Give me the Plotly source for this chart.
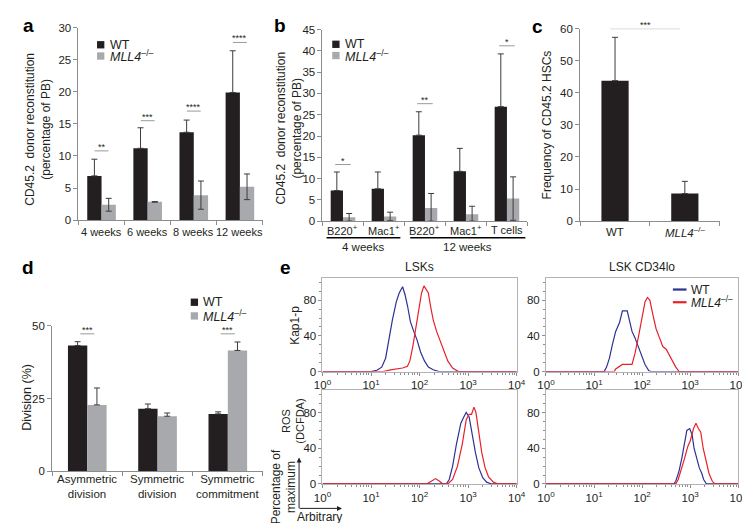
import plotly.graph_objects as go

W, H = 750, 523
FONT = "Liberation Sans, Arial, sans-serif"
INK = "#231f20"
AX = "#8c8c8c"
FRAME = "#b3b3b3"
WT_COLOR = "#231f20"
KO_COLOR = "#a7a9ac"
ERR = "#3c3c3c"
BLUE = "#2e3192"
RED = "#e8202a"
KO_LABEL = "<i>MLL4</i><sup>–/–</sup>"
SERIES = ["WT", KO_LABEL]

# ---------------- Panel a ----------------
a_cats = ["4 weeks", "6 weeks", "8 weeks", "12 weeks"]
a_wt = [6.9, 11.2, 13.7, 19.9]
a_wt_err = [2.6, 3.2, 1.9, 6.5]
a_ko = [2.4, 2.85, 3.9, 5.2]
a_ko_err = [1.0, 0.05, 2.2, 2.0]
a_sig = ["**", "***", "****", "****"]
a_sig_y = [10.8, 15.5, 17.0, 27.7]
a_yticks = [0, 5, 10, 15, 20, 25, 30]

# ---------------- Panel b ----------------
b_cats = ["B220<sup>+</sup>", "Mac1<sup>+</sup>", "B220<sup>+</sup>", "Mac1<sup>+</sup>", "T cells"]
b_wt = [7.2, 7.6, 20.2, 11.7, 26.9]
b_wt_err = [4.35, 3.95, 5.5, 5.4, 12.4]
b_ko = [0.9, 1.1, 3.1, 1.6, 5.3]
b_ko_err = [0.9, 1.0, 3.4, 1.9, 5.1]
b_sig = ["*", "", "**", "", "*"]
b_sig_y = [13.3, None, 27.6, None, 41.2]
b_groups = ["4 weeks", "12 weeks"]
b_group_start = [-0.4, 1.64]
b_group_end = [1.4, 4.45]
b_yticks = [0, 5, 10, 15, 20, 25, 30, 35, 40, 45]

# ---------------- Panel c ----------------
c_cats = ["WT", KO_LABEL]
c_vals = [43.8, 8.6]
c_err = [13.5, 3.8]
c_sig = "***"
c_sig_y = 60
c_yticks = [0, 10, 20, 30, 40, 50, 60]

# ---------------- Panel d ----------------
d_cats = ["Asymmetric<br>division", "Symmetric<br>division", "Symmetric<br>commitment"]
d_wt = [43.2, 21.5, 19.7]
d_wt_err = [1.3, 1.6, 0.7]
d_ko = [22.8, 18.9, 41.5]
d_ko_err = [5.8, 1.1, 2.9]
d_sig = ["***", "", "***"]
d_sig_y = [47.2, None, 47.2]
d_yticks = [0, 25, 50]

# ---------------- Panel e (flow histograms, x as log10 exponent) ----------------
e_ticks = [1, 10, 100, 1000, 10000]
e_ticktext = ["10<sup>0</sup>", "10<sup>1</sup>", "10<sup>2</sup>", "10<sup>3</sup>", "10<sup>4</sup>"]
e_yticks = [0, 40, 80]

kap_lsk_wt_x = [0, 1.0, 1.12, 1.22, 1.30, 1.37, 1.44, 1.52, 1.58, 1.65, 1.70, 1.75, 1.81, 1.88, 1.95, 2.02, 2.10, 2.18, 2.28, 2.40, 4]
kap_lsk_wt_y = [0, 0, 1.5, 5, 15, 38, 58, 78, 88, 95, 86, 74, 56, 45, 35, 22, 12, 5, 2, 0, 0]
kap_lsk_ko_x = [0, 1.25, 1.40, 1.50, 1.65, 1.75, 1.80, 1.86, 1.92, 1.98, 2.04, 2.09, 2.13, 2.18, 2.23, 2.28, 2.35, 2.42, 2.50, 2.58, 2.68, 2.80, 4]
kap_lsk_ko_y = [0, 0, 2, 3, 4, 6, 12, 28, 48, 68, 88, 96, 92, 88, 72, 58, 45, 35, 24, 12, 4, 0, 0]

kap_cd34_wt_x = [0, 1.21, 1.26, 1.32, 1.38, 1.45, 1.53, 1.59, 1.69, 1.73, 1.79, 1.85, 1.92, 1.99, 2.06, 2.14, 2.19, 4]
kap_cd34_wt_y = [0, 0, 5, 15, 30, 45, 55, 68, 68, 60, 45, 38, 28, 18, 8, 1, 0, 0]
kap_cd34_ko_x = [0, 1.42, 1.45, 1.59, 1.79, 1.85, 1.92, 1.99, 2.06, 2.11, 2.16, 2.23, 2.29, 2.36, 2.43, 2.50, 2.60, 2.70, 2.77, 4]
kap_cd34_ko_y = [0, 0, 3, 8, 8, 20, 38, 60, 78, 83, 80, 62, 48, 38, 28, 25, 15, 5, 0, 0]

ros_lsk_wt_x = [0, 2.55, 2.61, 2.68, 2.76, 2.85, 2.91, 2.96, 3.02, 3.08, 3.15, 3.22, 3.30, 3.38, 3.48, 4]
ros_lsk_wt_y = [0, 0, 5, 20, 45, 68, 75, 80, 75, 55, 35, 18, 7, 2, 0, 0]
ros_lsk_ko_x = [0, 2.14, 2.24, 2.33, 2.41, 2.48, 2.58, 2.68, 2.78, 2.88, 2.96, 3.02, 3.07, 3.12, 3.16, 3.22, 3.28, 3.35, 3.42, 3.52, 3.62, 4]
ros_lsk_ko_y = [0, 0, 3, 6, 3, 0, 0, 5, 20, 45, 72, 78, 78, 86, 80, 60, 35, 18, 8, 2, 0, 0]

ros_cd34_wt_x = [0, 2.66, 2.70, 2.77, 2.83, 2.88, 2.93, 2.99, 3.04, 3.08, 3.14, 3.19, 3.24, 3.28, 3.34, 4]
ros_cd34_wt_y = [0, 0, 3, 15, 30, 45, 60, 62, 55, 40, 28, 18, 12, 5, 0, 0]
ros_cd34_ko_x = [0, 2.70, 2.75, 2.81, 2.88, 2.95, 3.00, 3.07, 3.12, 3.17, 3.22, 3.27, 3.33, 3.39, 3.46, 3.51, 4]
ros_cd34_ko_y = [0, 0, 5, 15, 28, 42, 48, 62, 68, 62, 58, 40, 25, 12, 3, 0, 0]


def px(x):
    return x / W


def py(y):
    return 1 - y / H


def xdom(a, b):
    return [px(a), px(b)]


def ydom(top, bottom):
    return [py(bottom), py(top)]


fig = go.Figure()
layout = {}
shapes = []
annotations = []


def ax_key(letter, i):
    return f"{letter}axis" if i == 1 else f"{letter}axis{i}"


def ref(letter, i):
    return letter if i == 1 else f"{letter}{i}"


def bar_axes(i, n, xd, yd, yrange, yticks, cats, label_y, label_size=11.5):
    layout[ax_key("x", i)] = dict(
        domain=xd, anchor=ref("y", i), range=[-0.5, n - 0.5],
        tickmode="array", tickvals=[k - 0.5 for k in range(n + 1)], showticklabels=False,
        ticks="outside", ticklen=4, tickcolor=AX,
        showline=True, linecolor=AX, linewidth=1, zeroline=False, showgrid=False,
    )
    layout[ax_key("y", i)] = dict(
        domain=yd, anchor=ref("x", i), range=yrange, tickmode="array", tickvals=yticks,
        ticks="outside", ticklen=4, tickcolor=AX, showline=True, linecolor=AX, linewidth=1,
        zeroline=False, showgrid=False, tickfont=dict(size=11.5, color=INK, family=FONT),
    )
    for k, c in enumerate(cats):
        annotations.append(dict(xref=ref("x", i), yref="paper", x=k, y=py(label_y), text=c,
                                showarrow=False, xanchor="center", yanchor="middle",
                                font=dict(size=label_size, color=INK, family=FONT)))


def err(arr, minus=None):
    d = dict(type="data", array=arr, symmetric=False, color=ERR, thickness=1, width=3)
    d["arrayminus"] = minus if minus is not None else [0] * len(arr)
    return d


def add_pair(i, wt, wt_err, ko, ko_err, w, ko_sym):
    n = len(wt)
    xs = list(range(n))
    fig.add_trace(go.Bar(x=xs, y=wt, width=w, offset=-w, marker=dict(color=WT_COLOR, line=dict(width=0)),
                         error_y=err(wt_err), xaxis=ref("x", i), yaxis=ref("y", i), showlegend=False))
    minus = [min(e, v) for e, v in zip(ko_err, ko)] if ko_sym else None
    fig.add_trace(go.Bar(x=xs, y=ko, width=w, offset=0, marker=dict(color=KO_COLOR, line=dict(width=0)),
                         error_y=err(ko_err, minus), xaxis=ref("x", i), yaxis=ref("y", i), showlegend=False))


def add_sig(i, sigs, ys, half):
    for k, (s, yv) in enumerate(zip(sigs, ys)):
        if not s:
            continue
        shapes.append(dict(type="line", xref=ref("x", i), yref=ref("y", i), x0=k - half, x1=k + half,
                           y0=yv, y1=yv, line=dict(color="#9a9a9a", width=1)))
        annotations.append(dict(xref=ref("x", i), yref=ref("y", i), x=k, y=yv, text=s, showarrow=False,
                                yanchor="bottom", yshift=-3, font=dict(size=9, color=INK, family=FONT)))


def square_legend(x, y0, dy):
    for k, (name, col) in enumerate(zip(SERIES, [WT_COLOR, KO_COLOR])):
        yy = y0 + k * dy
        shapes.append(dict(type="rect", xref="paper", yref="paper", x0=px(x), x1=px(x + 7.5),
                           y0=py(yy + 3.75), y1=py(yy - 3.75), fillcolor=col, line=dict(width=0)))
        annotations.append(dict(xref="paper", yref="paper", x=px(x + 11), y=py(yy), text=name,
                                showarrow=False, xanchor="left", yanchor="middle",
                                font=dict(size=12.5, color=INK, family=FONT)))


def ylabel(x, y, text, size=12.5):
    annotations.append(dict(xref="paper", yref="paper", x=px(x), y=py(y), text=text, textangle=-90,
                            showarrow=False, xanchor="center", yanchor="middle",
                            font=dict(size=size, color=INK, family=FONT)))


def plabel(x, y, t):
    annotations.append(dict(xref="paper", yref="paper", x=px(x), y=py(y), text=f"<b>{t}</b>",
                            showarrow=False, xanchor="left", yanchor="middle",
                            font=dict(size=19, color="#000000", family=FONT)))


# Panel a
bar_axes(1, 4, xdom(63, 252), ydom(14, 211), [0, 30], a_yticks, a_cats, 223, 11)
add_pair(1, a_wt, a_wt_err, a_ko, a_ko_err, 0.31, True)
add_sig(1, a_sig, a_sig_y, 0.15)
square_legend(82, 31.5, 11.5)
ylabel(22, 118, "CD45.2  donor reconstitution<br>(percentage of PB)", 12)
plabel(4, 12, "a")

# Panel b
bar_axes(2, 5, xdom(313, 523), ydom(16, 212), [0, 45], b_yticks, b_cats, 221, 11)
add_pair(2, b_wt, b_wt_err, b_ko, b_ko_err, 0.30, True)
add_sig(2, b_sig, b_sig_y, 0.19)
square_legend(323, 31, 11.5)
ylabel(279, 117, "CD45.2  donor reconstitution<br>(percentage of PB)", 12)
plabel(261, 12, "b")
for name, s, e in zip(b_groups, b_group_start, b_group_end):
    shapes.append(dict(type="line", xref="x2", yref="paper", x0=s, x1=e, y0=py(229), y1=py(229),
                       line=dict(color="#000000", width=1.3)))
    annotations.append(dict(xref="x2", yref="paper", x=(s + e) / 2, y=py(238), text=name, showarrow=False,
                            xanchor="center", yanchor="middle", font=dict(size=11.5, color=INK, family=FONT)))

# Panel c
bar_axes(3, 2, xdom(577, 720), ydom(15, 212), [0, 60], c_yticks, c_cats, 223)
fig.add_trace(go.Bar(x=[0, 1], y=c_vals, width=0.39, offset=-0.195,
                     marker=dict(color=WT_COLOR, line=dict(width=0)), error_y=err(c_err),
                     xaxis="x3", yaxis="y3", showlegend=False))
shapes.append(dict(type="line", xref="x3", yref="y3", x0=-0.07, x1=0.93, y0=c_sig_y, y1=c_sig_y,
                   line=dict(color="#9a9a9a", width=1)))
annotations.append(dict(xref="x3", yref="y3", x=0.43, y=c_sig_y, text=c_sig, showarrow=False,
                        yanchor="bottom", yshift=-3, font=dict(size=9, color=INK, family=FONT)))
ylabel(543, 113, "Frequency of CD45.2 HSCs", 12)
plabel(526, 13, "c")

# Panel d
bar_axes(4, 3, xdom(36, 252), ydom(319, 468), [0, 50], d_yticks, d_cats, 484)
add_pair(4, d_wt, d_wt_err, d_ko, d_ko_err, 0.275, False)
add_sig(4, d_sig, d_sig_y, 0.1)
square_legend(178, 295, 14)
ylabel(10, 392, "Division (%)")
plabel(3, 259, "d")

# Panel e
hist_boxes = [
    (5, xdom(313, 512), ydom(270, 366), kap_lsk_wt_x, kap_lsk_wt_y, kap_lsk_ko_x, kap_lsk_ko_y),
    (6, xdom(542, 739), ydom(270, 366), kap_cd34_wt_x, kap_cd34_wt_y, kap_cd34_ko_x, kap_cd34_ko_y),
    (7, xdom(313, 512), ydom(385, 481), ros_lsk_wt_x, ros_lsk_wt_y, ros_lsk_ko_x, ros_lsk_ko_y),
    (8, xdom(542, 739), ydom(385, 481), ros_cd34_wt_x, ros_cd34_wt_y, ros_cd34_ko_x, ros_cd34_ko_y),
]
for i, xd, yd, wx, wy, kx, ky in hist_boxes:
    layout[ax_key("x", i)] = dict(
        domain=xd, anchor=ref("y", i), type="log", range=[0, 4], tickmode="array",
        tickvals=e_ticks, ticktext=e_ticktext, ticks="outside", ticklen=3, tickcolor=AX,
        showline=True, mirror=True, linecolor=FRAME, linewidth=1, zeroline=False, showgrid=False,
        tickfont=dict(size=11.5, color=INK, family=FONT),
        minor=dict(ticks="outside", ticklen=2, dtick="D1", tickcolor=AX, showgrid=False),
    )
    layout[ax_key("y", i)] = dict(
        domain=yd, anchor=ref("x", i), range=[0, 105], tickmode="array", tickvals=e_yticks,
        ticks="outside", ticklen=3, tickcolor=AX, showline=True, mirror=True, linecolor=FRAME,
        linewidth=1, zeroline=False, showgrid=False, tickfont=dict(size=11.5, color=INK, family=FONT),
        minor=dict(ticks="outside", ticklen=2, dtick=10, tickcolor=AX, showgrid=False),
    )
    fig.add_trace(go.Scatter(x=[10 ** v for v in wx], y=wy, mode="lines", line=dict(color=BLUE, width=1.2),
                             xaxis=ref("x", i), yaxis=ref("y", i), showlegend=False))
    fig.add_trace(go.Scatter(x=[10 ** v for v in kx], y=ky, mode="lines", line=dict(color=RED, width=1.2),
                             xaxis=ref("x", i), yaxis=ref("y", i), showlegend=False))

plabel(267, 259, "e")
for t, xc in [("LSKs", 412), ("LSK CD34lo", 640)]:
    annotations.append(dict(xref="paper", yref="paper", x=px(xc), y=py(259), text=t, showarrow=False,
                            xanchor="center", yanchor="middle", font=dict(size=12, color=INK, family=FONT)))
ylabel(285, 319, "Kap1-p", 12)
ylabel(283, 417, "ROS<br>(DCFDA)", 11)
ylabel(273, 484, "Percentage of<br>maximum", 12)
annotations.append(dict(xref="paper", yref="paper", x=px(310), y=py(515), text="Arbitrary", showarrow=False,
                        xanchor="center", yanchor="middle", font=dict(size=12, color=INK, family=FONT)))
# axis-direction arrows
annotations.append(dict(xref="paper", yref="paper", x=px(289), y=py(454), ax=0, ay=52, text="",
                        showarrow=True, arrowhead=2, arrowsize=1, arrowwidth=1, arrowcolor=INK))
annotations.append(dict(xref="paper", yref="paper", x=px(333), y=py(506), ax=-44, ay=0, text="",
                        showarrow=True, arrowhead=2, arrowsize=1, arrowwidth=1, arrowcolor=INK))
# line legend for panel e
for k, (name, col) in enumerate(zip(SERIES, [BLUE, RED])):
    yy = 282 + k * 13
    shapes.append(dict(type="line", xref="paper", yref="paper", x0=px(672), x1=px(686), y0=py(yy), y1=py(yy),
                       line=dict(color=col, width=2.2)))
    annotations.append(dict(xref="paper", yref="paper", x=px(689), y=py(yy), text=name, showarrow=False,
                            xanchor="left", yanchor="middle", font=dict(size=12, color=INK, family=FONT)))

fig.update_layout(
    width=W, height=H, autosize=False, margin=dict(l=0, r=0, t=0, b=0),
    paper_bgcolor="white", plot_bgcolor="white", barmode="overlay",
    font=dict(family=FONT, color=INK), shapes=shapes, annotations=annotations, **layout,
)
fig.write_html("out.html")
